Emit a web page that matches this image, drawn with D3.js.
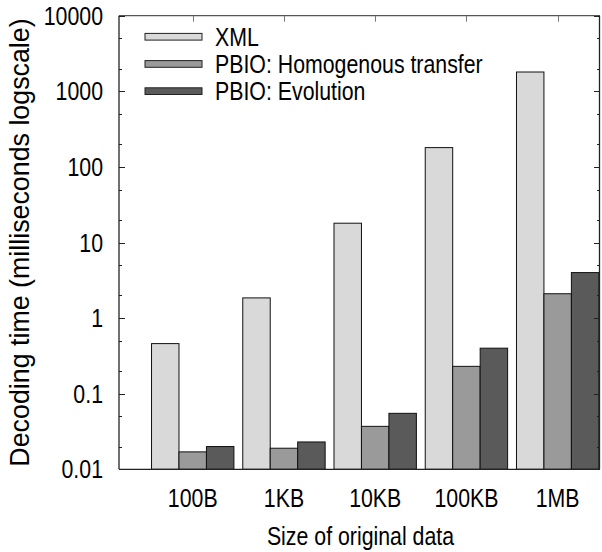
<!DOCTYPE html>
<html>
<head>
<meta charset="utf-8">
<script src="https://cdn.jsdelivr.net/npm/d3@7"></script>
<style>
  body { margin: 0; background: #fff; }
  text { font-family: "Liberation Sans", Arial, sans-serif; fill: #000; }
</style>
</head>
<body>
<div id="chart"></div>
<script>
// categories and series (milliseconds)
var categories = ['100B', '1KB', '10KB', '100KB', '1MB'];
var seriesNames = ['XML', 'PBIO: Homogenous transfer', 'PBIO: Evolution'];
var xmlTimes = [0.46, 1.85, 18, 180, 1800];
var homogTimes = [0.017, 0.019, 0.037, 0.23, 2.1];
var evolTimes = [0.02, 0.023, 0.055, 0.4, 4.0];
var yTicks = [0.01, 0.1, 1, 10, 100, 1000, 10000];
var yTickLabels = ['0.01', '0.1', '1', '10', '100', '1000', '10000'];

var colors = ['#d9d9d9', '#9a9a9a', '#5a5a5a'];
var allSeries = [xmlTimes, homogTimes, evolTimes];

var W = 602, H = 552;
var pLeft = 119, pRight = 600, pTop = 15.7, pBottom = 469.3;
var squeeze = 0.82; // text in the original is horizontally narrow
var fontSize = '26px';

var svg = d3.select('#chart').append('svg')
	.attr('width', W)
	.attr('height', H);

var x = d3.scaleLinear().domain([-0.808, 4.464]).range([pLeft, pRight]);
var y = d3.scaleLog().domain([0.01, 10000]).range([pBottom, pTop]);
var barW = 0.301;

/*
 * bars
 */
allSeries.forEach(function(vals, s) {
	svg.append('g').selectAll('rect')
		.data(vals)
		.enter()
			.append('rect')
				.attr('x', function(d, i) { return x(i + (s - 1) * barW - barW / 2); })
				.attr('width', x(barW) - x(0))
				.attr('y', function(d) { return y(d); })
				.attr('height', function(d) { return pBottom - y(d); })
				.attr('fill', colors[s])
				.attr('stroke', '#111')
				.attr('stroke-width', 1);
});

/*
 * frame and ticks
 */
var axisG = svg.append('g').attr('stroke', '#222').attr('fill', 'none');
axisG.append('line').attr('x1', pLeft).attr('x2', pRight).attr('y1', pBottom).attr('y2', pBottom).attr('stroke-width', 1.3);
axisG.append('line').attr('x1', pLeft).attr('x2', pRight).attr('y1', pTop).attr('y2', pTop).attr('stroke-width', 1.3).attr('stroke', '#555');
axisG.append('line').attr('x1', pLeft).attr('x2', pLeft).attr('y1', pTop).attr('y2', pBottom).attr('stroke-width', 1.3);
axisG.append('line').attr('x1', pRight - 0.5).attr('x2', pRight - 0.5).attr('y1', pTop).attr('y2', pBottom).attr('stroke-width', 1.3);

var minors = [];
yTicks.slice(0, -1).forEach(function(t) { minors.push(t * 2, t * 5); });

axisG.selectAll('.major')
	.data(yTicks)
	.enter()
		.append('path')
			.attr('d', function(d) {
				var yy = Math.round(y(d)) + 0.5;
				return 'M' + pLeft + ',' + yy + 'h6M' + pRight + ',' + yy + 'h-6';
			});

axisG.selectAll('.minor')
	.data(minors)
	.enter()
		.append('path')
			.attr('d', function(d) {
				var yy = Math.round(y(d)) + 0.5;
				return 'M' + pLeft + ',' + yy + 'h3M' + pRight + ',' + yy + 'h-3';
			});

axisG.selectAll('.topTick')
	.data(categories)
	.enter()
		.append('path')
			.attr('stroke', '#777')
			.attr('d', function(d, i) {
				var xx = Math.round(x(i)) + 0.5;
				return 'M' + xx + ',' + pTop + 'v6';
			});

/*
 * tick labels
 */
svg.append('g').selectAll('text')
	.data(yTicks)
	.enter()
		.append('text')
			.attr('transform', function(d) { return 'translate(103,' + (y(d) + 9) + ') scale(' + squeeze + ',1)'; })
			.attr('text-anchor', 'end')
			.style('font-size', fontSize)
			.text(function(d, i) { return yTickLabels[i]; });

svg.append('g').selectAll('text')
	.data(categories)
	.enter()
		.append('text')
			.attr('transform', function(d, i) { return 'translate(' + x(i) + ',506.5) scale(' + squeeze + ',1)'; })
			.attr('text-anchor', 'middle')
			.style('font-size', fontSize)
			.text(function(d) { return d; });

svg.append('text')
	.attr('transform', 'translate(' + ((pLeft + pRight) / 2 + 1) + ',545) scale(' + squeeze + ',1)')
	.attr('text-anchor', 'middle')
	.style('font-size', fontSize)
	.text('Size of original data');

svg.append('text')
	.attr('transform', 'translate(29,' + ((pTop + pBottom) / 2) + ') rotate(-90)')
	.attr('text-anchor', 'middle')
	.style('font-size', '26.8px')
	.text('Decoding time (milliseconds logscale)');

/*
 * legend
 */
var legend = svg.append('g').selectAll('g')
	.data(seriesNames)
	.enter()
		.append('g')
			.attr('transform', function(d, i) { return 'translate(0,' + (36.7 + i * 27.2) + ')'; });

legend.append('rect')
	.attr('x', 145)
	.attr('y', -3.3)
	.attr('width', 57)
	.attr('height', 6.7)
	.attr('fill', function(d, i) { return colors[i]; })
	.attr('stroke', '#222')
	.attr('stroke-width', 1);

legend.append('text')
	.attr('transform', 'translate(215,9) scale(' + squeeze + ',1)')
	.style('font-size', fontSize)
	.text(function(d) { return d; });
</script>
</body>
</html>
